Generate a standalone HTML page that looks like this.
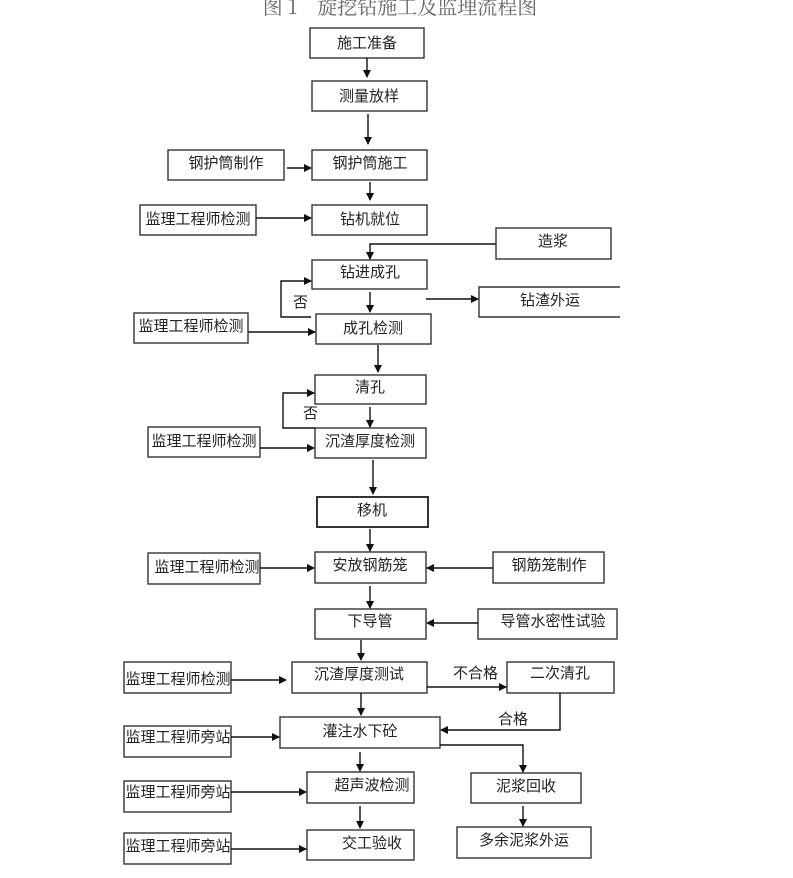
<!DOCTYPE html>
<html><head><meta charset="utf-8"><style>
body{margin:0;background:#fff}
svg{display:block}
text{font-family:"Liberation Sans","Noto Sans CJK SC",sans-serif;font-size:15px;fill:#222}
</style></head><body>
<svg width="793" height="878" viewBox="0 0 793 878" xmlns="http://www.w3.org/2000/svg">
<defs><marker id="a" markerWidth="8" markerHeight="8" refX="7" refY="4" orient="auto" markerUnits="userSpaceOnUse"><path d="M0,0 L8,4 L0,8 z" fill="#111"/></marker></defs>
<text x="400" y="14" text-anchor="middle" style="font-size:20px;fill:#666;font-family:'Noto Serif CJK SC',serif">图 1　旋挖钻施工及监理流程图</text>
<g fill="none" stroke="#333" stroke-width="1.4">
<rect x="310" y="28" width="114" height="30"/>
<rect x="312" y="81" width="115" height="30"/>
<rect x="168" y="150" width="116" height="30"/>
<rect x="312" y="150" width="115" height="30"/>
<rect x="140" y="205" width="116" height="30"/>
<rect x="312" y="205" width="115" height="30"/>
<rect x="496" y="228" width="115" height="31"/>
<rect x="312" y="260" width="115" height="29"/>
<path d="M620,287 H479 V317 H620"/>
<rect x="134" y="313" width="114" height="30"/>
<rect x="316" y="314" width="115" height="30"/>
<rect x="315" y="375" width="111" height="29"/>
<rect x="148" y="427" width="112" height="30"/>
<rect x="315" y="428" width="111" height="30"/>
<rect x="317" y="497" width="111" height="30" stroke-width="2"/>
<rect x="148" y="553" width="112" height="31"/>
<rect x="315" y="552" width="111" height="31"/>
<rect x="493" y="552" width="111" height="31"/>
<rect x="315" y="609" width="111" height="30"/>
<rect x="478" y="609" width="139" height="30"/>
<rect x="124" y="662" width="107" height="31"/>
<rect x="292" y="662" width="135" height="31"/>
<rect x="507" y="662" width="107" height="31"/>
<rect x="124" y="726" width="107" height="31"/>
<rect x="280" y="717" width="160" height="31"/>
<rect x="471" y="773" width="110" height="30"/>
<rect x="124" y="781" width="107" height="31"/>
<rect x="307" y="772" width="107" height="31"/>
<rect x="124" y="833" width="107" height="31"/>
<rect x="307" y="830" width="107" height="30"/>
<rect x="457" y="827" width="134" height="31"/>
</g>
<g stroke="#111" stroke-width="1.4" fill="none" marker-end="url(#a)">
<path d="M367,58 V77"/><path d="M368,114 V144"/>
<path d="M287,168 H311"/><path d="M370,182 V200"/>
<path d="M256,218 H311"/>
<path d="M496,244 H370 V259"/>
<path d="M311,317 H281 V281 H311"/>
<path d="M370,292 V312"/>
<path d="M426,299 H478"/>
<path d="M248,332 H315"/>
<path d="M378,345 V372"/>
<path d="M315,428 H283 V393 H314"/>
<path d="M370,407 V427"/>
<path d="M260,448 H314"/>
<path d="M373,460 V494"/>
<path d="M370,529 V551"/>
<path d="M260,568 H314"/>
<path d="M493,568 H427"/>
<path d="M370,586 V608"/>
<path d="M478,623 H427"/>
<path d="M361,640 V660"/>
<path d="M231,680 H286"/>
<path d="M427,687 H506"/>
<path d="M560,693 V730 H441"/>
<path d="M361,693 V715"/>
<path d="M231,737 H279"/>
<path d="M440,745 H523 V772"/>
<path d="M360,752 V771"/>
<path d="M231,792 H306"/>
<path d="M360,806 V828"/>
<path d="M231,849 H306"/>
<path d="M523,806 V826"/>
</g>
<g text-anchor="middle">
<text x="367" y="48">施工准备</text>
<text x="369" y="101">测量放样</text>
<text x="226" y="168">钢护筒制作</text>
<text x="370" y="168">钢护筒施工</text>
<text x="198" y="224">监理工程师检测</text>
<text x="370" y="224">钻机就位</text>
<text x="553" y="246">造浆</text>
<text x="370" y="277">钻进成孔</text>
<text x="550" y="305">钻渣外运</text>
<text x="191" y="331">监理工程师检测</text>
<text x="373" y="333">成孔检测</text>
<text x="370" y="392">清孔</text>
<text x="204" y="446">监理工程师检测</text>
<text x="370" y="446">沉渣厚度检测</text>
<text x="372" y="515">移机</text>
<text x="207" y="572">监理工程师检测</text>
<text x="370" y="570">安放钢筋笼</text>
<text x="549" y="570">钢筋笼制作</text>
<text x="370" y="626">下导管</text>
<text x="553" y="626">导管水密性试验</text>
<text x="178" y="684">监理工程师检测</text>
<text x="359" y="679">沉渣厚度测试</text>
<text x="560" y="678">二次清孔</text>
<text x="178" y="742">监理工程师旁站</text>
<text x="360" y="736">灌注水下砼</text>
<text x="178" y="797">监理工程师旁站</text>
<text x="372" y="790">超声波检测</text>
<text x="178" y="851">监理工程师旁站</text>
<text x="372" y="848">交工验收</text>
<text x="526" y="791">泥浆回收</text>
<text x="524" y="845">多余泥浆外运</text>
</g>
<text x="293" y="307">否</text>
<text x="303" y="418">否</text>
<text x="453" y="678">不合格</text>
<text x="498" y="724">合格</text>
</svg>
</body></html>
